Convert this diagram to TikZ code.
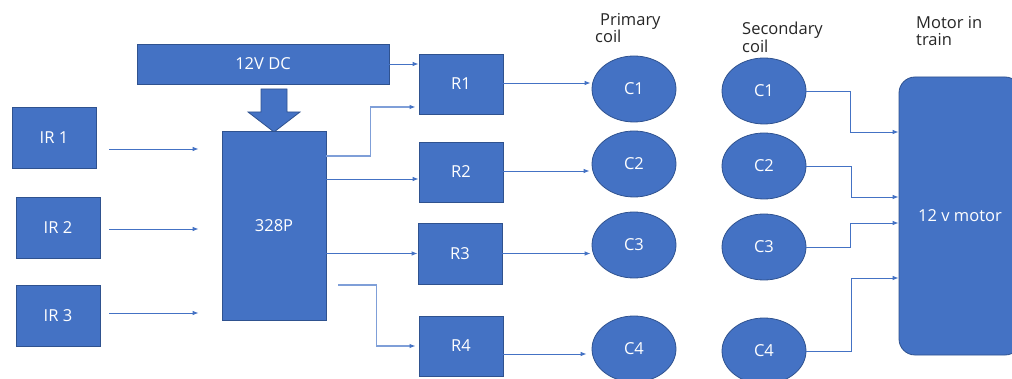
\documentclass[tikz,border=0pt]{standalone}
\usepackage{fontspec}
\setmainfont{Open Sans}
\usetikzlibrary{arrows.meta,calc,shapes.geometric}
\definecolor{fillb}{HTML}{4472C4}
\definecolor{edgeb}{HTML}{2F528F}
\definecolor{lineb}{HTML}{4472C4}
\definecolor{lineL}{HTML}{7F9FD8}
\tikzset{
  box/.style={draw=edgeb, fill=fillb, line width=0.8pt, text=white,
    font=\fontsize{16.5}{18}\selectfont, inner sep=0pt},
  coil/.style={box, ellipse, minimum width=84pt, minimum height=66pt},
  rbox/.style={box, rectangle, minimum width=84pt, minimum height=60pt},
  conn/.style={draw=lineb, line width=0.8pt, -{Latex[length=6pt,width=4.5pt]}},
  conn2/.style={draw=lineL, line width=1.2pt, -{Latex[length=6pt,width=4.5pt,color=lineb,fill=lineb]}},
  lbl/.style={font=\fontsize{16.5}{17.5}\selectfont, text=black!85, align=left, anchor=north west, inner sep=0pt}
}
\begin{document}
\begin{tikzpicture}[x=1pt,y=-1pt]
\useasboundingbox (0,0) rectangle (1012,379);
% main blocks
\node[box, minimum width=252pt, minimum height=40pt] (dc) at (263,64) {12V DC};
\draw[draw=edgeb, fill=fillb, line width=0.8pt] (261,89) -- (287,89) -- (287,112) -- (300,112) -- (274,132) -- (248,112) -- (261,112) -- cycle;
\node[box, minimum width=104pt, minimum height=189pt] (mcu) at (274,225.5) {328P};
\node[box, minimum width=84pt, minimum height=61pt] (ir1) at (54,137.5) {IR 1};
\node[box, minimum width=84pt, minimum height=61pt] (ir2) at (58,227.5) {IR 2};
\node[box, minimum width=84pt, minimum height=61pt] (ir3) at (58,315.5) {IR 3};
\node[rbox] (r1) at (461,84) {R1};
\node[rbox] (r2) at (461,172) {R2};
\node[rbox, minimum height=61pt] (r3) at (460,253.5) {R3};
\node[rbox] (r4) at (461,346) {R4};
% coils
\node[coil] (p1) at (634,89) {C1};
\node[coil] (p2) at (634,164) {C2};
\node[coil] (p3) at (634,245) {C3};
\node[coil] (p4) at (634,349) {C4};
\node[coil] (s1) at (764,91) {C1};
\node[coil] (s2) at (764,166) {C2};
\node[coil] (s3) at (764,247) {C3};
\node[coil] (s4) at (764,351) {C4};
% motor
\node[box, rounded corners=16pt, minimum width=122pt, minimum height=278pt] (motor) at (960,216) {12 v motor};
% labels
\node[lbl] (lp) at (595,13) {\hspace{0.3em}Primary\\coil};
\node[lbl] (ls) at (742,22) {Secondary\\coil};
\node[lbl] (lm) at (916,16) {Motor in\\train};
% IR connectors
\draw[conn] ($(ir1.east|-0,149)+(13,0)$) -- ($(mcu.west|-0,149)+(-23,0)$);
\draw[conn] ($(ir2.east|-0,229)+(9,0)$) -- ($(mcu.west|-0,229)+(-23,0)$);
\draw[conn] ($(ir3.east|-0,313)+(9,0)$) -- ($(mcu.west|-0,313)+(-23,0)$);
% to relays
\draw[conn] (dc.east) -- (r1.west|-dc.east);
\draw[conn2] (mcu.east|-0,156) -| ($(r1.west|-0,107)+(-48,0)$) -- ($(r1.west|-0,107)+(-3,0)$);
\draw[conn] (mcu.east|-0,179) -- (r2.west|-0,179);
\draw[conn] (mcu.east|-r3.west) -- (r3.west);
\draw[conn2] ($(mcu.east|-0,285)+(12,0)$) -| ($(r4.west)+(-42,0)$) -- ($(r4.west)+(-3,0)$);
% relays to primary coils
\draw[conn] ($(r1.east)+(0,-1)$) -- ($(p1.west|-0,83)+(-1,0)$);
\draw[conn] ($(r2.east)+(0,-1)$) -- ($(p2.west|-0,171)+(-2,0)$);
\draw[conn] (r3.east) -- ($(p3.west|-r3.east)+(-1,0)$);
\draw[conn] ($(r4.east)+(0,8)$) -- ($(p4.west|-0,354)+(-5,0)$);
% secondary coils to motor
\draw[conn] (s1.east) -| ($(motor.west|-0,132)+(-48,0)$) -- (motor.west|-0,132);
\draw[conn] (s2.east) -| ($(motor.west|-0,197)+(-47,0)$) -- (motor.west|-0,197);
\draw[conn] (s3.east) -| ($(motor.west|-0,223)+(-48,0)$) -- (motor.west|-0,223);
\draw[conn] (s4.east) -| ($(motor.west|-0,278)+(-47,0)$) -- (motor.west|-0,278);
\end{tikzpicture}
\end{document}
